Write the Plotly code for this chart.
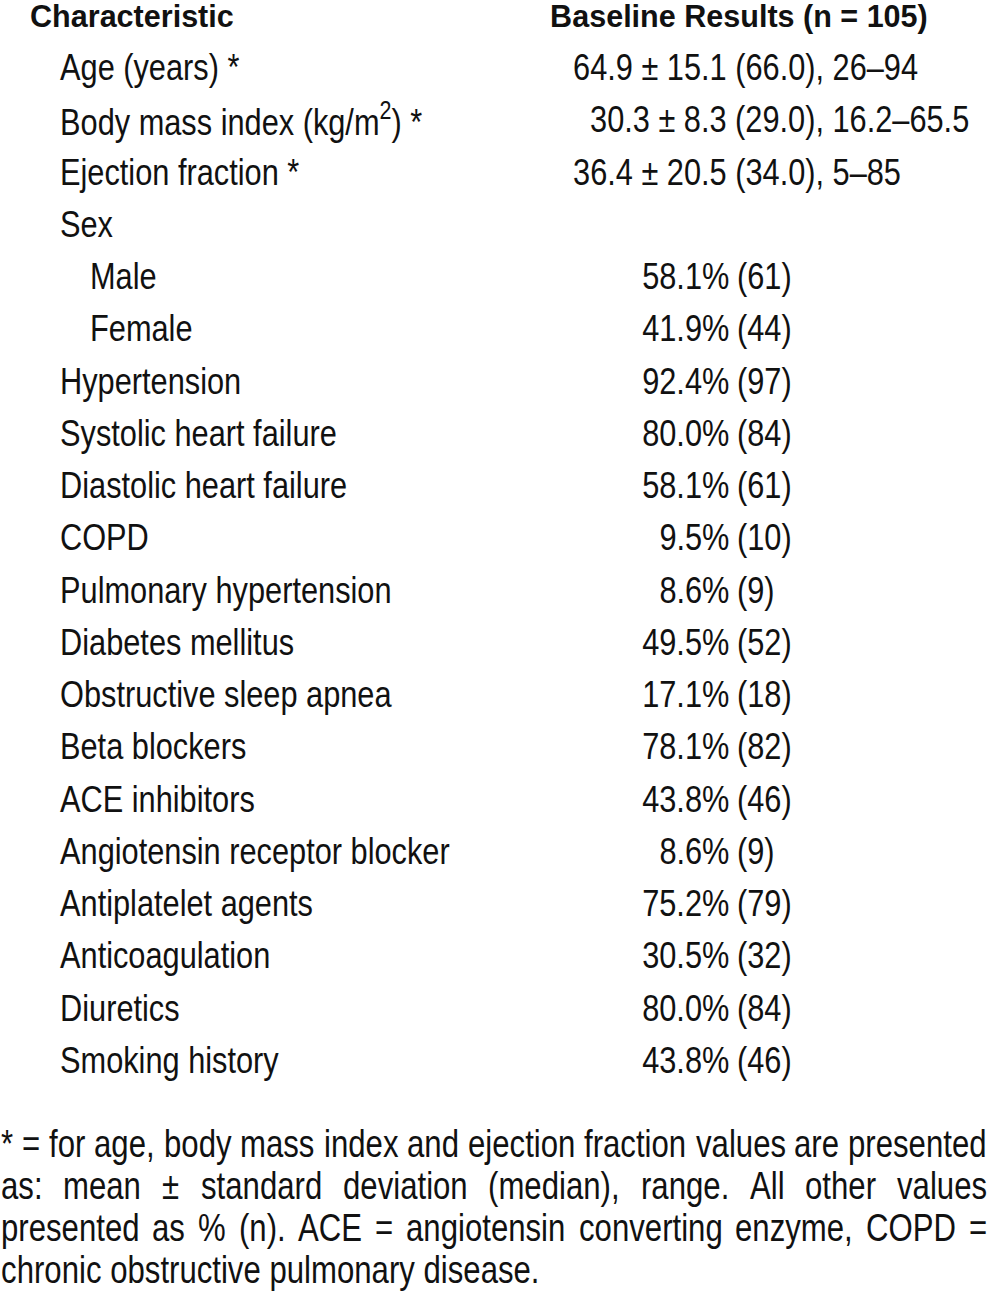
import json
import plotly.graph_objects as go

# ---------------- data ----------------
header_left = "Characteristic"
header_right = "Baseline Results (n = 105)"

cont_labels = ["Age (years) *", "Body mass index (kg/m<sup>2</sup>) *", "Ejection fraction *"]
cont_mean = ["64.9", "30.3", "36.4"]
cont_sd = ["15.1", "8.3", "20.5"]
cont_median = ["66.0", "29.0", "34.0"]
cont_min = ["26", "16.2", "5"]
cont_max = ["94", "65.5", "85"]

group_label = "Sex"
cat_labels = ["Male", "Female", "Hypertension", "Systolic heart failure",
              "Diastolic heart failure", "COPD", "Pulmonary hypertension",
              "Diabetes mellitus", "Obstructive sleep apnea", "Beta blockers",
              "ACE inhibitors", "Angiotensin receptor blocker", "Antiplatelet agents",
              "Anticoagulation", "Diuretics", "Smoking history"]
cat_pct = [58.1, 41.9, 92.4, 80.0, 58.1, 9.5, 8.6, 49.5, 17.1, 78.1, 43.8, 8.6,
           75.2, 30.5, 80.0, 43.8]
cat_n = [61, 44, 97, 84, 61, 10, 9, 52, 18, 82, 46, 9, 79, 32, 84, 46]
cat_sub = [True, True] + [False] * 14

footnote_lines = [
    "* = for age, body mass index and ejection fraction values are presented",
    "as: mean \u00b1 standard deviation (median), range. All other values",
    "presented as % (n). ACE = angiotensin converting enzyme, COPD =",
    "chronic obstructive pulmonary disease.",
]
footnote_justify = [True, True, True, False]

# ---------------- layout ----------------
W, H = 989, 1291
FONT = "Liberation Sans, Arial, sans-serif"
FS = 37.5          # body text size
FS_HEAD = 32       # header size
FS_FOOT = 38       # footnote size
NARROW = 0.82      # horizontal condensation (Arial Narrow look)
HEAD_SCALE = 0.955
COLOR = "#111111"

X_HEAD = 30
X_L1 = 60
X_L2 = 90
X_CONT = 573
CONT_SHIFT = [0, 17, 0]
X_PCT_END = 729
X_N_START = 737
X_HEAD_R = 550

Y_HEAD = 16
Y0 = 67
DY = 52.25
FOOT_Y = [1144, 1186, 1228, 1270]

# Arial/Helvetica advance widths (per 1000 em)
HW = {' ': 278, '*': 389, '=': 584, '\u00b1': 584, '%': 889, '(': 333, ')': 333,
      ',': 278, '.': 278, ':': 278,
      'A': 667, 'C': 722, 'D': 722, 'E': 667, 'O': 778, 'P': 667,
      'a': 556, 'b': 556, 'c': 500, 'd': 556, 'e': 556, 'f': 278, 'g': 556,
      'h': 556, 'i': 222, 'j': 222, 'k': 500, 'l': 222, 'm': 833, 'n': 556,
      'o': 556, 'p': 556, 'q': 556, 'r': 333, 's': 500, 't': 278, 'u': 556,
      'v': 500, 'w': 722, 'x': 500, 'y': 500, 'z': 500}


def text_width(s, fs):
    return sum(HW.get(ch, 556) for ch in s) * NARROW * fs / 1000.0


fig = go.Figure()
ann = []
scales = []


def add(text, x, y, anchor="left", bold=False, xshift=0, size=FS, scale=NARROW):
    ann.append(dict(text=f"<b>{text}</b>" if bold else text, x=x, y=y,
                    xref="x", yref="y", xanchor=anchor, yanchor="middle",
                    showarrow=False, xshift=xshift, borderpad=0, borderwidth=0,
                    font=dict(family=FONT, size=size, color=COLOR)))
    scales.append(scale)


add(header_left, X_HEAD, Y_HEAD, bold=True, size=FS_HEAD, scale=HEAD_SCALE)
add(header_right, X_HEAD_R, Y_HEAD, bold=True, size=FS_HEAD, scale=HEAD_SCALE)

row = 0
for i, lab in enumerate(cont_labels):
    y = Y0 + DY * row
    add(lab, X_L1, y)
    val = f"{cont_mean[i]} \u00b1 {cont_sd[i]} ({cont_median[i]}), {cont_min[i]}\u2013{cont_max[i]}"
    add(val, X_CONT, y, xshift=CONT_SHIFT[i])
    row += 1

add(group_label, X_L1, Y0 + DY * row)
row += 1

for i, lab in enumerate(cat_labels):
    y = Y0 + DY * row
    add(lab, X_L2 if cat_sub[i] else X_L1, y)
    add(f"{cat_pct[i]:.1f}%", X_PCT_END, y, anchor="right")
    add(f"({cat_n[i]})", X_N_START, y)
    row += 1

# justified footnote
for li, line in enumerate(footnote_lines):
    words = line.split(" ")
    y = FOOT_Y[li]
    if footnote_justify[li] and len(words) > 1:
        ws = [text_width(w, FS_FOOT) for w in words]
        gap = (W - 3 - sum(ws)) / (len(words) - 1)
        x = 1
        for w, wd in zip(words, ws):
            add(w, x, y, size=FS_FOOT)
            x += wd + gap
    else:
        add(line, 1, y, size=FS_FOOT)

fig.update_layout(
    width=W, height=H, margin=dict(l=0, r=0, t=0, b=0),
    paper_bgcolor="white", plot_bgcolor="white",
    xaxis=dict(range=[0, W], visible=False, fixedrange=True),
    yaxis=dict(range=[H, 0], visible=False, fixedrange=True),
    annotations=ann, showlegend=False,
)

post = """
document.body.style.margin = '0';
var gd = document.getElementById('{plot_id}');
var S = %s;
function condense() {
  gd.querySelectorAll('g.annotation').forEach(function(g) {
    var i = +g.getAttribute('data-index');
    var a = gd.layout.annotations[i];
    var s = S[i];
    var t = g.querySelector('text.annotation-text');
    if (!t || s === 1 || t.getAttribute('data-cond')) return;
    var bb = t.getBBox();
    var ax = a.xanchor === 'right' ? bb.x + bb.width :
             (a.xanchor === 'center' ? bb.x + bb.width / 2 : bb.x);
    var prev = t.getAttribute('transform') || '';
    t.setAttribute('transform', 'translate(' + (ax * (1 - s)) + ',0) scale(' + s + ',1) ' + prev);
    t.setAttribute('data-cond', '1');
  });
}
condense();
gd.on('plotly_afterplot', function() { condense(); });
""" % json.dumps(scales)

fig.write_html("out.html", post_script=post, config={"responsive": False, "staticPlot": True})
